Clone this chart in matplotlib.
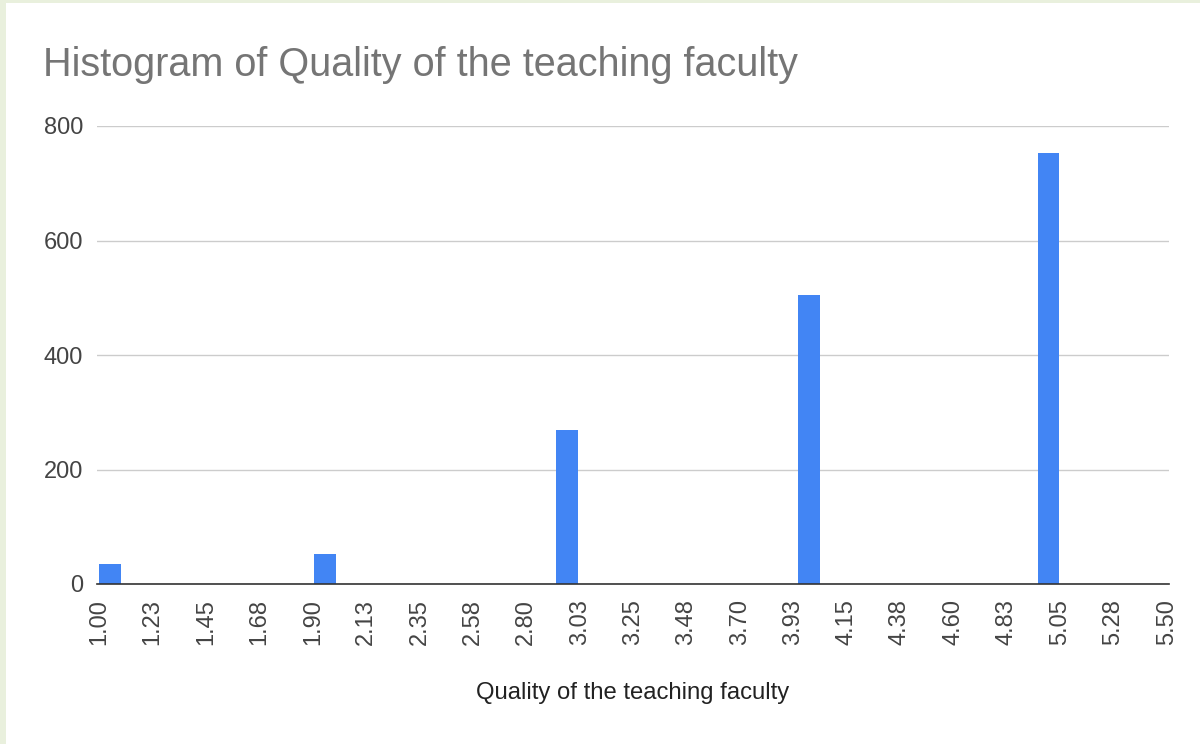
import matplotlib.pyplot as plt
from matplotlib.patches import Rectangle

# Histogram buckets (left edge of each drawn bar) and counts
bar_starts = [1.00, 1.907, 2.926, 3.945, 4.956]
counts = [35, 52, 269, 504, 752]

tick_values = [1.00 + 0.225 * i for i in range(21)]
tick_labels = ['1.00', '1.23', '1.45', '1.68', '1.90', '2.13', '2.35', '2.58', '2.80', '3.03',
               '3.25', '3.48', '3.70', '3.93', '4.15', '4.38', '4.60', '4.83', '5.05', '5.28', '5.50']
y_ticks = [0, 200, 400, 600, 800]

plt.rcParams['font.family'] = ['Liberation Sans', 'DejaVu Sans']

fig = plt.figure(figsize=(12, 7.44), dpi=100)
fig.patch.set_facecolor('#e9f0dd')
# white card with a thin green frame on the top and left
fig.patches.append(Rectangle((6 / 1200, 0), 1, 1 - 3 / 744, transform=fig.transFigure,
                             facecolor='white', edgecolor='none', zorder=-10))

ax = fig.add_axes([97 / 1200, 1 - 584 / 744, 1072 / 1200, 458 / 744])
ax.set_zorder(5)
ax.set_facecolor('none')

ax.bar(bar_starts, counts, width=0.092, align='edge', color='#4285f4', zorder=3)

ax.set_xlim(0.99, 5.51)
ax.set_ylim(0, 800)
ax.set_xticks(tick_values)
ax.set_xticklabels(tick_labels, rotation=90)
ax.set_yticks(y_ticks)

ax.grid(axis='y', color='#cccccc', linewidth=1)
ax.tick_params(axis='both', length=0, labelsize=17, labelcolor='#444444')
ax.tick_params(axis='y', pad=10)
ax.tick_params(axis='x', pad=11)
for side in ['top', 'right', 'left']:
    ax.spines[side].set_visible(False)
ax.spines['bottom'].set_color('#333333')
ax.spines['bottom'].set_linewidth(1.2)
ax.spines['bottom'].set_zorder(4)

fig.text(43 / 1200, 1 - 65 / 744, 'Histogram of Quality of the teaching faculty',
         fontsize=28.5, color='#757575', va='center', ha='left')
fig.text(633 / 1200, 1 - 693 / 744, 'Quality of the teaching faculty',
         fontsize=17.2, color='#222222', va='center', ha='center')

fig.savefig('out.png', dpi=100, facecolor=fig.get_facecolor())
